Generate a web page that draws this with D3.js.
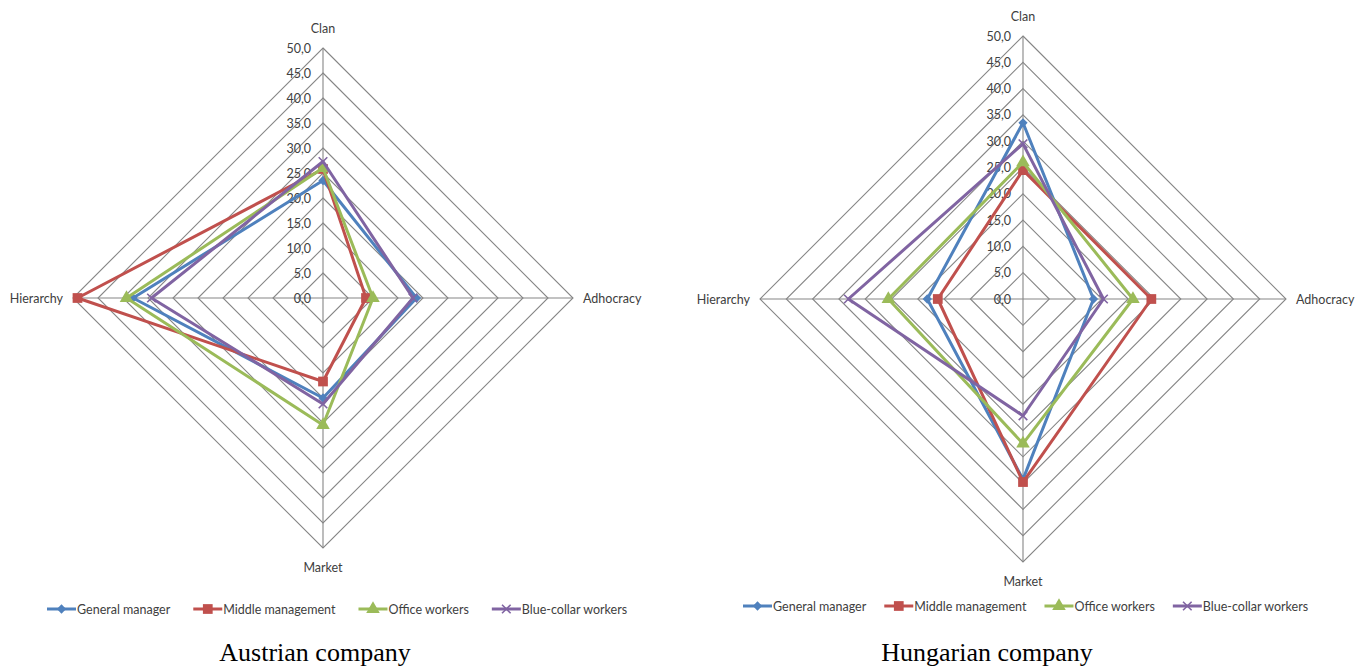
<!DOCTYPE html>
<html>
<head>
<meta charset="utf-8">
<script src="https://cdn.jsdelivr.net/npm/d3@7"></script>
<style>
  html, body { margin: 0; padding: 0; background: #fff; }
  svg { display: block; }
  .lbl { font-family: Lato, "Liberation Sans", sans-serif; font-size: 12.5px; fill: #404040; }
  .caption { font-family: "Liberation Serif", "Times New Roman", serif; font-size: 26px; fill: #000; }
</style>
</head>
<body>
<svg id="chart" width="1367" height="669"></svg>
<script>
// Axes, clockwise from the top
const axes = ["Clan", "Adhocracy", "Market", "Hierarchy"];
const seriesNames = ["General manager", "Middle management", "Office workers", "Blue-collar workers"];
const tickValues = [0, 5, 10, 15, 20, 25, 30, 35, 40, 45, 50];

// Austrian company (Clan, Adhocracy, Market, Hierarchy)
const austriaGeneral = [23.5, 18.7, 20.0, 38.0];
const austriaMiddle  = [25.8, 8.6, 16.7, 49.1];
const austriaOffice  = [26.0, 10.0, 25.4, 39.3];
const austriaBlue    = [27.3, 18.0, 21.2, 34.3];

// Hungarian company
const hungaryGeneral = [33.5, 13.4, 34.3, 18.2];
const hungaryMiddle  = [24.5, 24.4, 34.8, 16.2];
const hungaryOffice  = [26.0, 20.9, 27.5, 25.6];
const hungaryBlue    = [29.5, 15.3, 22.2, 33.2];

const colors = ["#4f81bd", "#c0504d", "#9bbb59", "#8064a2"];
const symbols = [d3.symbolDiamond2, d3.symbolSquare, d3.symbolTriangle, d3.symbolX];
const symbolSizes = [55, 95, 80, 50];

const panels = [
  { title: "Austrian company", cx: 323, cy: 298, radius: 250, legendX: 47, legendY: 609, legendGap: 23, captionX: 315,
    series: [austriaGeneral, austriaMiddle, austriaOffice, austriaBlue] },
  { title: "Hungarian company", cx: 1023, cy: 299, radius: 263, legendX: 743, legendY: 606, legendGap: 18, captionX: 987,
    series: [hungaryGeneral, hungaryMiddle, hungaryOffice, hungaryBlue] }
];

const fmt = d3.formatLocale({ decimal: ",", thousands: ".", grouping: [3], currency: ["", ""] }).format(".1f");

const svg = d3.select("#chart");

function drawMarker(g, i, x, y) {
  const path = g.append("path")
    .attr("d", d3.symbol().type(symbols[i]).size(symbolSizes[i])())
    .attr("transform", `translate(${x},${y})`);
  if (symbols[i] === d3.symbolX) {
    path.attr("fill", "none").attr("stroke", colors[i]).attr("stroke-width", 1.6);
  } else {
    path.attr("fill", colors[i]);
  }
}

panels.forEach(p => {
  const g = svg.append("g");
  const r = d3.scaleLinear().domain([0, 50]).range([0, p.radius]);
  const angle = i => -Math.PI / 2 + i * Math.PI / 2;
  const pt = (v, i) => [p.cx + r(v) * Math.cos(angle(i)), p.cy + r(v) * Math.sin(angle(i))];

  // grid rings
  g.selectAll("path.ring")
    .data(tickValues.slice(1))
    .join("path")
    .attr("class", "ring")
    .attr("d", t => d3.line().curve(d3.curveLinearClosed)(axes.map((a, i) => pt(t, i))))
    .attr("fill", "none")
    .attr("stroke", "#868686")
    .attr("stroke-width", 1.1);

  // spokes
  g.selectAll("line.spoke")
    .data(axes)
    .join("line")
    .attr("class", "spoke")
    .attr("x1", p.cx).attr("y1", p.cy)
    .attr("x2", (a, i) => pt(50, i)[0])
    .attr("y2", (a, i) => pt(50, i)[1])
    .attr("stroke", "#868686")
    .attr("stroke-width", 1.1);

  // tick labels
  g.selectAll("text.tick")
    .data(tickValues)
    .join("text")
    .attr("class", "lbl tick")
    .attr("x", p.cx - 12)
    .attr("y", t => p.cy - r(t))
    .attr("text-anchor", "end")
    .attr("dominant-baseline", "central")
    .text(t => fmt(t));

  // axis names
  const off = 20;
  g.selectAll("text.axis")
    .data(axes)
    .join("text")
    .attr("class", "lbl axis")
    .attr("x", (a, i) => i === 1 ? pt(50, i)[0] + 10 : i === 3 ? pt(50, i)[0] - 10 : p.cx)
    .attr("y", (a, i) => i === 0 ? pt(50, i)[1] - off : i === 2 ? pt(50, i)[1] + off - 1 : p.cy)
    .attr("text-anchor", (a, i) => i === 1 ? "start" : i === 3 ? "end" : "middle")
    .attr("dominant-baseline", "central")
    .text(a => a);

  // series
  p.series.forEach((vals, s) => {
    g.append("path")
      .attr("d", d3.line().curve(d3.curveLinearClosed)(vals.map((v, i) => pt(v, i))))
      .attr("fill", "none")
      .attr("stroke", colors[s])
      .attr("stroke-width", 3)
      .attr("stroke-linejoin", "round");
    vals.forEach((v, i) => {
      const [x, y] = pt(v, i);
      drawMarker(g, s, x, y);
    });
  });

  // legend
  let x = p.legendX;
  seriesNames.forEach((name, s) => {
    const lg = g.append("g");
    lg.append("line")
      .attr("x1", x).attr("x2", x + 29)
      .attr("y1", p.legendY).attr("y2", p.legendY)
      .attr("stroke", colors[s]).attr("stroke-width", 3);
    drawMarker(lg, s, x + 14.5, p.legendY);
    const t = lg.append("text")
      .attr("class", "lbl")
      .attr("x", x + 30)
      .attr("y", p.legendY)
      .attr("dominant-baseline", "central")
      .text(name);
    x += 30 + t.node().getComputedTextLength() + p.legendGap;
  });

  // caption
  svg.append("text")
    .attr("class", "caption")
    .attr("x", p.captionX)
    .attr("y", 661)
    .attr("text-anchor", "middle")
    .text(p.title);
});
</script>
</body>
</html>
